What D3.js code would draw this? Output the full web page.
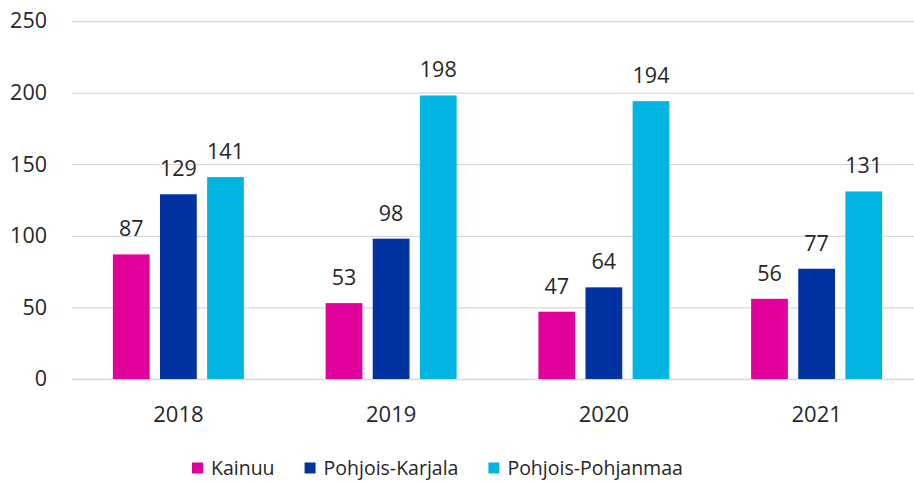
<!DOCTYPE html>
<html>
<head>
<meta charset="utf-8">
<script src="https://cdn.jsdelivr.net/npm/d3@7"></script>
<style>
    body { margin: 0; background: #fff; }
    svg { display: block; }
    svg text { font-family: "Open Sans", "Noto Sans", sans-serif; }
</style>
</head>
<body>
<div id="chart"></div>
<script>
// data
const years = ["2018", "2019", "2020", "2021"];
const regions = ["Kainuu", "Pohjois-Karjala", "Pohjois-Pohjanmaa"];
const kainuu = [87, 53, 47, 56];
const pohjoisKarjala = [129, 98, 64, 77];
const pohjoisPohjanmaa = [141, 198, 194, 131];
const yTicks = [0, 50, 100, 150, 200, 250];

const colors = ["#e1009a", "#0033a0", "#00b5e2"];
const series = [kainuu, pohjoisKarjala, pohjoisPohjanmaa];

const width = 914, height = 483;
const margin = { top: 21, right: -9, bottom: 104, left: 72 };

const svg = d3.select("#chart")
    .append("svg")
    .attr("width", width)
    .attr("height", height);

// scales
const x0 = d3.scaleBand()
    .domain(years)
    .range([margin.left, width - margin.right]);

const groupW = 131;
const x1 = d3.scaleBand()
    .domain(regions)
    .range([(x0.bandwidth() - groupW) / 2, (x0.bandwidth() + groupW) / 2])
    .paddingInner(0.22);

const y = d3.scaleLinear()
    .domain([0, 250])
    .range([height - margin.bottom, margin.top]);

// gridlines + y labels
const yAxis = svg.append("g")
    .attr("class", "y axis")
    .attr("transform", `translate(${margin.left},0)`)
    .call(d3.axisLeft(y)
        .tickValues(yTicks)
        .tickSize(-(width - margin.left - margin.right))
        .tickPadding(25));
yAxis.select(".domain").remove();
yAxis.selectAll(".tick line").attr("stroke", "#d9d9d9").attr("stroke-width", 1.3);
yAxis.selectAll(".tick text")
    .attr("fill", "#262626")
    .style("font-size", "21.5px");

// x labels
const xAxis = svg.append("g")
    .attr("class", "x axis")
    .attr("transform", `translate(0,${height - margin.bottom})`)
    .call(d3.axisBottom(x0).tickSize(0).tickPadding(27));
xAxis.select(".domain").remove();
xAxis.selectAll(".tick text")
    .attr("fill", "#262626")
    .style("font-size", "22px");

// bars
const rows = years.map((yr, i) => ({
    year: yr,
    values: regions.map((r, j) => ({ region: r, value: series[j][i], color: colors[j] }))
}));

const groups = svg.selectAll("g.year")
    .data(rows)
    .enter()
    .append("g")
    .attr("class", "year")
    .attr("transform", d => `translate(${x0(d.year)},0)`);

groups.selectAll("rect")
    .data(d => d.values)
    .enter()
    .append("rect")
    .attr("x", d => x1(d.region))
    .attr("width", x1.bandwidth())
    .attr("y", d => y(d.value))
    .attr("height", d => y(0) - y(d.value))
    .attr("fill", d => d.color);

groups.selectAll("text.val")
    .data(d => d.values)
    .enter()
    .append("text")
    .attr("class", "val")
    .attr("x", d => x1(d.region) + x1.bandwidth() / 2)
    .attr("y", d => y(d.value) - 18)
    .attr("text-anchor", "middle")
    .attr("fill", "#262626")
    .style("font-size", "21.5px")
    .text(d => d.value);

// legend
const legend = svg.append("g")
    .attr("class", "legend")
    .attr("transform", "translate(192,468)");

let lx = 0;
regions.forEach((r, i) => {
    const item = legend.append("g").attr("transform", `translate(${lx},0)`);
    item.append("rect")
        .attr("x", 0).attr("y", -5.5)
        .attr("width", 11).attr("height", 11)
        .attr("fill", colors[i]);
    const t = item.append("text")
        .attr("x", 19)
        .attr("y", 0)
        .attr("dy", "0.35em")
        .attr("fill", "#262626")
        .style("font-size", "19.5px")
        .text(r);
    lx += 19 + t.node().getComputedTextLength() + 30;
});
</script>
</body>
</html>
